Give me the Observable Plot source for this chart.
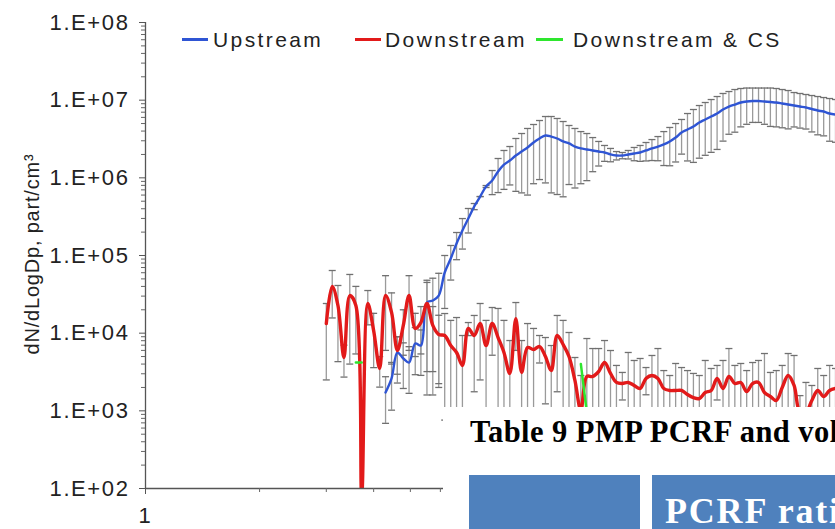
<!DOCTYPE html>
<html><head><meta charset="utf-8">
<script src="https://cdn.jsdelivr.net/npm/d3@7"></script>
<script src="https://cdn.jsdelivr.net/npm/@observablehq/plot@0.6"></script>
<style>
html,body{margin:0;padding:0;background:#fff;overflow:hidden;}
#wrap{position:relative;width:835px;height:529px;overflow:hidden;font-family:"Liberation Sans",Arial,sans-serif;background:#fff;}
#chart svg{display:block;}
.leg{position:absolute;top:28px;font-size:21px;letter-spacing:2.4px;color:#222;line-height:24px;white-space:nowrap;}
.sw{position:absolute;height:3px;top:38px;}
#ytitle{position:absolute;left:32px;top:254px;transform:translate(-50%,-50%) rotate(-90deg);font-size:20px;letter-spacing:0.8px;color:#222;white-space:nowrap;line-height:24px;}
#cover{position:absolute;left:443px;top:407px;width:392px;height:122px;background:#fff;}
#cap{position:absolute;left:470px;top:417px;font-family:"Liberation Serif","Times New Roman",serif;font-weight:bold;font-size:30.5px;letter-spacing:0.45px;line-height:1;color:#000;white-space:nowrap;}
.box{position:absolute;top:475px;height:60px;background:#4f81bd;}
#boxtxt{position:absolute;left:665px;top:493px;font-family:"Liberation Serif","Times New Roman",serif;font-weight:bold;font-size:36px;letter-spacing:1.8px;line-height:1;color:#fff;white-space:nowrap;}
</style></head>
<body>
<div id="wrap">
  <div id="chart"></div>
  <div id="ytitle">dN/dLogDp, part/cm³</div>
  <div class="sw" style="left:182px;width:26px;background:#2f55d4"></div>
  <div class="leg" style="left:213px">Upstream</div>
  <div class="sw" style="left:355px;width:26px;background:#e21a1a"></div>
  <div class="leg" style="left:385px">Downstream</div>
  <div class="sw" style="left:536px;width:27px;background:#2ee62e"></div>
  <div class="leg" style="left:573px">Downstream &amp; CS</div>
  <div id="cover"></div>
  <div id="cap">Table 9 PMP PCRF and vol</div>
  <div class="box" style="left:469px;width:171px"></div>
  <div class="box" style="left:652px;width:200px"></div>
  <div id="boxtxt">PCRF rati</div>
</div>
<script>
// Particle diameter (nm)
const diameters = [3.00,3.11,3.22,3.34,3.46,3.59,3.72,3.86,4.00,4.15,
 4.30,4.46,4.62,4.79,4.96,5.15,5.33,5.53,5.73,5.94,
 6.16,6.39,6.62,6.86,7.11,7.37,7.64,7.92,8.22,8.52,
 8.83,9.15,9.49,9.83,10.19,10.57,10.96,11.36,11.77,12.20,
 12.65,13.11,13.59,14.09,14.61,15.14,15.70,16.27,16.87,17.49,
 18.13,18.79,19.48,20.20,20.93,21.70,22.50,23.32,24.18,25.06,
 25.98,26.93,27.92,28.94,30.00,31.10,32.24,33.42,34.64,35.91,
 37.23,38.59,40.01,41.47,42.99,44.57,46.20,47.89,49.65,51.47,
 53.35,55.31,57.33,59.43,61.61,63.87,66.21];

// Upstream dN/dLogDp (mean) and mean + 1 SD
const upstream = [null,null,null,null,null,null,null,null,null,null,
 1720,2610,5640,4720,4190,7360,6930,24800,26300,30500,
 60400,91400,143000,210000,299000,428000,574000,773000,925000,1210000,
 1480000,1670000,1940000,2180000,2460000,2850000,3210000,3510000,3400000,3210000,
 2940000,2770000,2530000,2390000,2320000,2250000,2180000,2120000,2000000,1940000,
 1940000,2000000,2060000,2120000,2250000,2390000,2530000,2690000,2940000,3300000,
 3830000,4190000,4580000,5160000,5640000,6160000,6730000,7580000,8280000,8790000,
 9330000,9610000,9750000,9750000,9610000,9460000,9330000,9060000,8790000,8530000,
 8280000,8040000,7690000,7360000,7140000,6730000,6530000];
const upstreamHigh = [null,null,null,null,null,null,null,null,null,null,
 2750,4200,9000,7500,6700,11800,11000,48000,51000,59000,
 100000,134500,197700,299000,403000,467000,574000,796000,1242000,1774000,
 2250000,2530000,3210000,3720000,4320000,4860000,5470000,6160000,6160000,5810000,
 5310000,4720000,4320000,3940000,3720000,3300000,2940000,2610000,2390000,2180000,
 2120000,2250000,2460000,2610000,2850000,3110000,3400000,3940000,4450000,5000000,
 5640000,6730000,7580000,8530000,9330000,10190000,11140000,12190000,12920000,13710000,
 14130000,14330000,14330000,14330000,14330000,14330000,14130000,13710000,13310000,12540000,
 12190000,11830000,11480000,11140000,10810000,10500000,10190000];

// Downstream dN/dLogDp (mean) and mean + 1 SD
const downstream = [13300,39900,22700,4860,30500,22700,81,24100,10800,3510,
 30500,18500,5980,12600,30500,11500,13700,24100,12600,9620,
 9330,6930,5640,3840,11500,9330,13300,6930,13300,8790,
 5640,3030,15400,3120,6530,6160,6730,5010,3300,9330,
 7140,5010,2460,1010,2770,2770,3210,4190,3030,2320,
 2250,2320,2120,1940,2610,2850,2610,1940,1830,1830,
 1830,1620,1480,1440,1720,1830,2610,1940,2770,2250,
 2320,1770,2250,2320,1720,1530,1360,2000,2850,2120,
 951,951,1360,1830,1530,1830,1940];
const downstreamHigh = [24100,64100,41100,7000,57000,40000,null,35400,18000,5000,
 55000,33000,9000,20000,55000,18000,22000,45000,22000,17000,
 17900,14600,15900,9330,13700,16900,24100,14600,21400,20800,
 14600,8040,24800,8040,13300,11500,9330,8790,6930,16900,
 14600,10200,4860,2850,8530,6340,6340,8040,5980,3840,
 3120,5640,4450,4720,3610,5160,6340,3300,2850,4070,
 3610,3300,3030,2850,4450,3510,3840,4450,6340,3840,
 4070,3300,4190,4450,5470,3120,3300,3840,5470,5160,
 1570,2320,2120,3510,2850,3840,3510];

// Downstream & CS (only where it departs from the downstream curve)
const downstreamCS = diameters.map(() => null);
downstreamCS[5] = 4190; downstreamCS[6] = 4190;
downstreamCS[43] = 4000; downstreamCS[44] = 950;

// Axis ticks and labels
const yTicks = [1e2,1e3,1e4,1e5,1e6,1e7,1e8];
const yTickLabels = ["1.E+02","1.E+03","1.E+04","1.E+05","1.E+06","1.E+07","1.E+08"];
const yMinorMultipliers = [2,3,4,5,6,7,8,9];
const xTicks = [1];
const xTickLabels = ["1"];
const xMinorTicks = [2,3,4,5,6,7,8,9,10,20,30,40,50,60];

const yMinorTicks = yTicks.slice(0,-1).flatMap(t => yMinorMultipliers.map(m => m*t));
const yLab = new Map(yTicks.map((t,i)=>[t,yTickLabels[i]]));
const xLab = new Map(xTicks.map((t,i)=>[t,xTickLabels[i]]));

const upRows = diameters.map((d,i)=>({d, v: upstream[i], hi: upstreamHigh[i]})).filter(r => r.v != null);
const downRows = diameters.map((d,i)=>({d, v: downstream[i], hi: downstreamHigh[i]}));
const csRows = diameters.map((d,i)=>({d, v: downstreamCS[i]}));
const withErr = rows => rows.filter(r => r.hi != null).map(r => ({...r, lo: 2*r.v - r.hi}));
const bars = [...withErr(upRows), ...withErr(downRows)];
const capSymbol = {draw(ctx){ ctx.moveTo(-3.5,0); ctx.lineTo(3.5,0); }};

const chart = Plot.plot({
  width: 835, height: 529,
  marginLeft: 145, marginRight: 0, marginTop: 22, marginBottom: 41,
  x: {type: "log", domain: [1, 66.2], label: null},
  y: {type: "log", domain: [1e2, 1e8], label: null},
  style: {fontFamily: "'Liberation Sans', Arial, sans-serif", fontSize: "22px", background: "#fff", color: "#222", overflow: "visible"},
  marks: [
    Plot.ruleX(bars, {x: "d", y1: r => r.lo > 0 ? r.lo : 1, y2: "hi", stroke: "#9a9a9a", strokeWidth: 1.3, clip: true}),
    Plot.dot(bars, {x: "d", y: "hi", symbol: capSymbol, r: 4, fill: "none", stroke: "#707070", strokeWidth: 1.3, clip: true}),
    Plot.dot(bars.filter(r => r.lo > 100), {x: "d", y: "lo", symbol: capSymbol, r: 4, fill: "none", stroke: "#707070", strokeWidth: 1.3, clip: true}),
    Plot.line(upRows, {x: "d", y: "v", stroke: "#2f55d4", strokeWidth: 2.4, curve: "catmull-rom", clip: true}),
    Plot.line(downRows, {x: "d", y: "v", stroke: "#e21a1a", strokeWidth: 3.4, curve: "catmull-rom", clip: true}),
    Plot.line(csRows, {x: "d", y: "v", stroke: "#2ee62e", strokeWidth: 2.5, clip: true}),
    Plot.ruleX([1], {stroke: "#555", strokeWidth: 1.3}),
    Plot.ruleY([100], {stroke: "#555", strokeWidth: 1.3}),
    Plot.axisY(yMinorTicks, {tickSize: 4, fill: "none", stroke: "#666"}),
    Plot.axisY(yTicks, {tickSize: 6, tickPadding: 10, tickFormat: d => yLab.get(d), fontSize: 22, fill: "#222", stroke: "#555"}),
    Plot.axisX(xMinorTicks, {tickSize: 4, fill: "none", stroke: "#666"}),
    Plot.axisX(xTicks, {tickSize: 6, tickPadding: 13, tickFormat: d => xLab.get(d), fontSize: 22, fill: "#222", stroke: "#555"})
  ]
});
chart.querySelectorAll("text").forEach(t => t.setAttribute("letter-spacing", "1.6"));
document.getElementById("chart").appendChild(chart);
</script>
</body></html>
